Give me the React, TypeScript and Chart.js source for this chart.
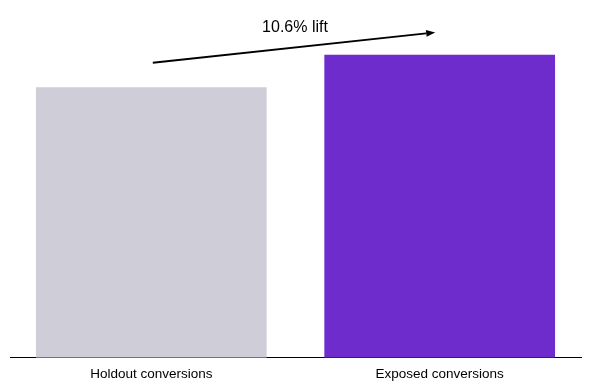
import React, { useEffect, useRef } from "react";
import { Chart, registerables } from "chart.js";

Chart.register(...registerables);

const categories = ["Holdout conversions", "Exposed conversions"];
const positions = [0, 1];
const conversions = [100, 112];
const barColors = ["#cfcdd7", "#6e2ccd"];
const liftLabel = "10.6% lift";
const yMax = 130;

const FONT = "'Liberation Sans', Arial, sans-serif";

const arrowPlugin = {
  id: "liftArrow",
  afterDatasetsDraw(chart: any) {
    const { ctx, scales } = chart;
    const xs = scales.x;
    const ys = scales.y;
    const x1 = xs.getPixelForValue(positions[0]) + 1.5;
    const x2 = xs.getPixelForValue(positions[1]) - 4.5;
    const y1 = ys.getPixelForValue(conversions[0]) - 24.4;
    const y2 = ys.getPixelForValue(conversions[1]) - 22.3;
    ctx.save();
    ctx.strokeStyle = "#000";
    ctx.fillStyle = "#000";
    ctx.lineWidth = 2;
    const ang = Math.atan2(y2 - y1, x2 - x1);
    const headLen = 9;
    const headW = 3.5;
    const bx = x2 - headLen * Math.cos(ang);
    const by = y2 - headLen * Math.sin(ang);
    ctx.beginPath();
    ctx.moveTo(x1, y1);
    ctx.lineTo(bx, by);
    ctx.stroke();
    ctx.beginPath();
    ctx.moveTo(x2, y2);
    ctx.lineTo(bx + headW * Math.sin(ang), by - headW * Math.cos(ang));
    ctx.lineTo(bx - headW * Math.sin(ang), by + headW * Math.cos(ang));
    ctx.closePath();
    ctx.fill();
    ctx.font = `16px ${FONT}`;
    ctx.textAlign = "center";
    ctx.textBaseline = "middle";
    ctx.fillText(liftLabel, (x1 + x2) / 2 + 1, (y1 + y2) / 2 - 20.5);
    ctx.restore();
  },
};

export default function App() {
  const ref = useRef<HTMLCanvasElement>(null);
  useEffect(() => {
    document.body.style.margin = "0";
    if (!ref.current) return;
    const chart = new Chart(ref.current, {
      type: "bar",
      data: {
        datasets: [
          {
            data: positions.map((p, i) => ({ x: p, y: conversions[i] })),
            backgroundColor: barColors,
            borderWidth: 0,
            barPercentage: 0.8,
            categoryPercentage: 1,
          },
        ],
      },
      options: {
        animation: false,
        responsive: false,
        maintainAspectRatio: false,
        layout: { padding: { top: 6, left: 10, right: 9, bottom: 0 } },
        plugins: { legend: { display: false }, tooltip: { enabled: false } },
        scales: {
          y: { display: false, min: 0, max: yMax },
          x: {
            type: "linear",
            offset: false,
            min: -0.49,
            max: 1.49,
            afterBuildTicks: (axis: any) => {
              axis.ticks = positions.map((v) => ({ value: v }));
            },
            grid: { display: false, drawTicks: false },
            border: { display: true, color: "#000", width: 1 },
            ticks: {
              color: "#000",
              padding: 8,
              autoSkip: false,
              maxRotation: 0,
              callback: (v: any) => categories[positions.indexOf(Number(v))] ?? "",
              font: { family: FONT, size: 13.5 },
            },
          },
        },
      },
      plugins: [arrowPlugin],
    });
    return () => chart.destroy();
  }, []);
  return (
    <div style={{ width: 590, height: 390, background: "#fff" }}>
      <canvas ref={ref} width={590} height={390} />
    </div>
  );
}
